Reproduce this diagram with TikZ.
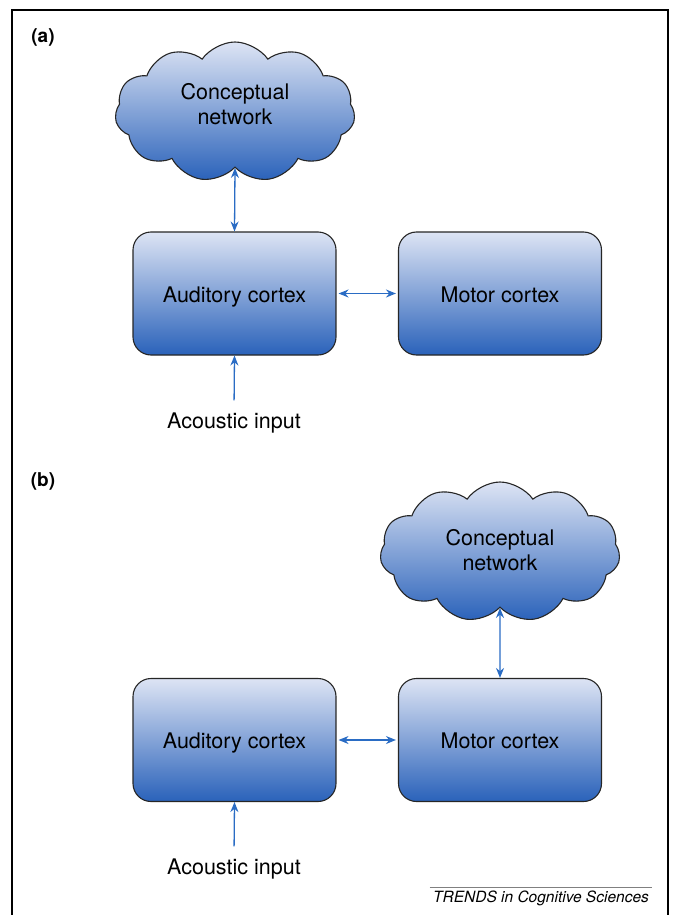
\documentclass[tikz,border=0pt]{standalone}
\usepackage{fontspec}
\setmainfont{TeX Gyre Heros}
\usetikzlibrary{arrows.meta,shapes.symbols}
\definecolor{boxtop}{HTML}{DDE4F4}
\definecolor{boxbottom}{HTML}{2A62BA}
\definecolor{arrowcolor}{HTML}{2A6CC4}

\begin{document}
\begin{tikzpicture}[x=1pt,y=-1pt,
    cortex/.style={draw=black!85, line width=1.1pt, rounded corners=18pt, shade, top color=boxtop, bottom color=boxbottom, minimum width=203pt, minimum height=123pt, text height=20pt, text depth=3pt, font=\fontsize{21.5}{25}\selectfont},
    concept/.style={cloud, cloud puffs=11, cloud puff arc=110, aspect=1.7, draw=black!85, line width=1.1pt, shade, top color=boxtop, bottom color=boxbottom, minimum width=240pt, minimum height=140pt},
    link/.style={arrowcolor, line width=1.3pt, {Stealth[length=10pt,width=8pt]}-{Stealth[length=10pt,width=8pt]}},
    feed/.style={arrowcolor, line width=1.3pt, -{Stealth[length=10pt,width=8pt]}},
    plain/.style={font=\fontsize{21.5}{25}\selectfont}]
\useasboundingbox (0,0) rectangle (674,915);
% frame
\draw[line width=1.6pt] (12,915) -- (12,10) -- (668,10) -- (668,915);

% (a)
\node[font=\fontsize{19}{22}\selectfont\bfseries] (labA) at (43,37) {(a)};
\node[concept] (netA) at (235,112) {};
\node[plain, align=center] (netAtxt) at ([yshift=8pt]netA.center) {Conceptual\\network};
\node[cortex] (audA) at (234.5,293.5) {Auditory cortex};
\node[cortex] (motA) at (500,293.5) {Motor cortex};
\node[plain] (inA) at (234,423) {Acoustic input};
\draw[link] (netA.south) -- (audA.north);
\draw[link, shorten <=2pt, shorten >=2pt] (audA.east) -- (motA.west);
\draw[feed, shorten <=9pt] (inA.north) -- (audA.south);

% (b)
\node[font=\fontsize{19}{22}\selectfont\bfseries] (labB) at (43,481) {(b)};
\node[concept] (netB) at (500,552) {};
\node[plain, align=center] (netBtxt) at ([yshift=2pt]netB.center) {Conceptual\\network};
\node[cortex] (audB) at (234.5,740) {Auditory cortex};
\node[cortex] (motB) at (500,740) {Motor cortex};
\node[plain] (inB) at (234,869) {Acoustic input};
\draw[link] (netB.south) -- (motB.north);
\draw[link, shorten <=2pt, shorten >=2pt] (audB.east) -- (motB.west);
\draw[feed, shorten <=9pt] (inB.north) -- (audB.south);

% journal tag
\node[font=\fontsize{15.5}{18}\selectfont\itshape] (tag) at (541,898) {TRENDS in Cognitive Sciences};
\draw[gray, line width=0.8pt] (tag.north west) -- (tag.north east);
\end{tikzpicture}
\end{document}
